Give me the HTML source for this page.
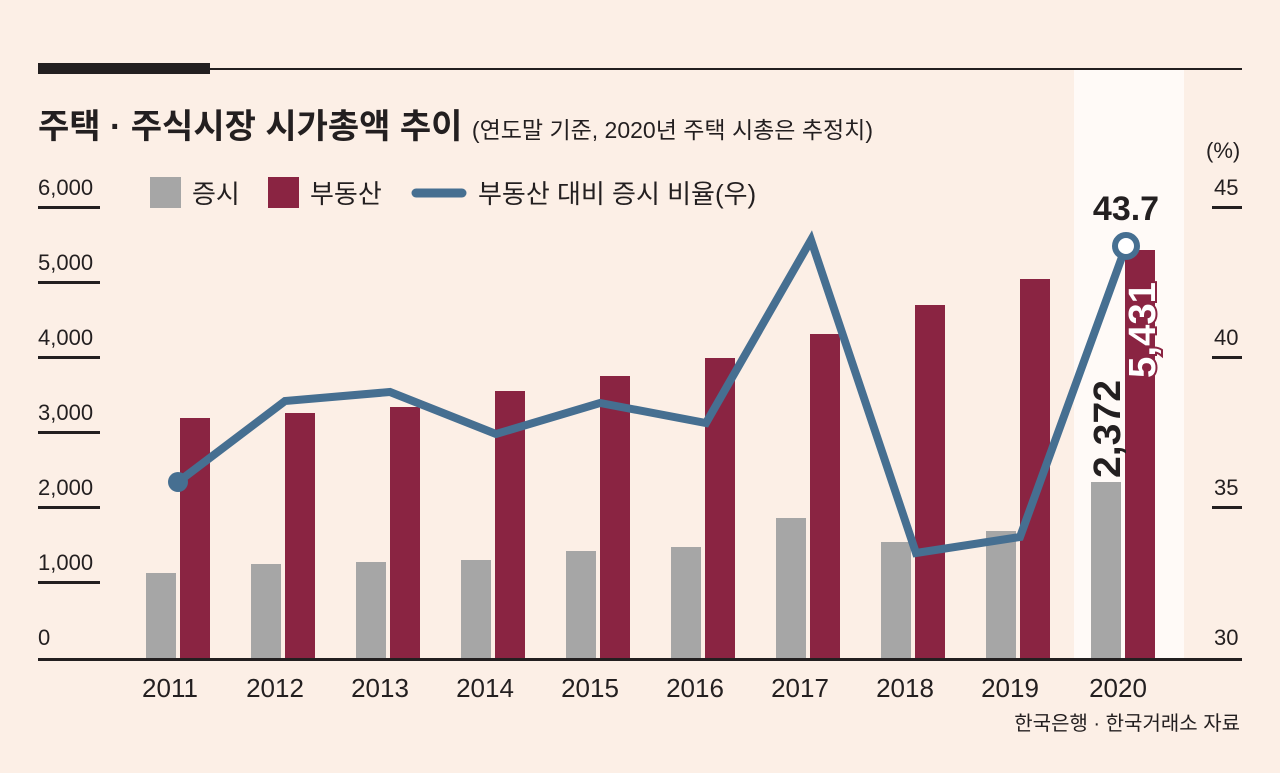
<!DOCTYPE html><html><head><meta charset="utf-8"><style>
body{margin:0;background:#fcefe6}
svg text{font-family:"Liberation Sans","Noto Sans CJK KR",sans-serif}
</style></head><body>
<svg width="1280" height="768" viewBox="0 0 1280 768" xmlns="http://www.w3.org/2000/svg">
<rect width="1280" height="768" fill="#fcefe6"/>
<rect x="1074" y="70" width="110" height="590" fill="#fffaf7"/>
<rect x="38" y="63" width="172" height="11" fill="#231f20"/>
<rect x="210" y="68" width="1032" height="2" fill="#231f20"/>
<text x="38" y="138" font-size="34" font-weight="bold" fill="#231f20">주택 · 주식시장 시가총액 추이 <tspan font-size="23" font-weight="normal">(연도말 기준, 2020년 주택 시총은 추정치)</tspan></text>
<g font-size="22" fill="#231f20">
<text x="38" y="195">6,000</text><text x="38" y="270">5,000</text><text x="38" y="345">4,000</text>
<text x="38" y="420">3,000</text><text x="38" y="495">2,000</text><text x="38" y="570">1,000</text><text x="38" y="645">0</text>
<text x="1206" y="158">(%)</text>
<text x="1214" y="195">45</text><text x="1214" y="345">40</text><text x="1214" y="495">35</text><text x="1214" y="645">30</text>
</g>
<g fill="#231f20">
<rect x="38" y="206" width="62" height="3"/><rect x="38" y="281" width="62" height="3"/><rect x="38" y="356" width="62" height="3"/>
<rect x="38" y="431" width="62" height="3"/><rect x="38" y="506" width="62" height="3"/><rect x="38" y="581" width="62" height="3"/>
<rect x="1212" y="206" width="30" height="3"/><rect x="1212" y="356" width="30" height="3"/><rect x="1212" y="506" width="30" height="3"/>
</g>
<rect x="150" y="177" width="31" height="31" fill="#a6a6a6"/>
<text x="192" y="203" font-size="26" fill="#231f20">증시</text>
<rect x="268" y="177" width="31" height="31" fill="#8a2442"/>
<text x="310" y="203" font-size="26" fill="#231f20">부동산</text>
<line x1="416" y1="193" x2="462" y2="193" stroke="#466f91" stroke-width="9" stroke-linecap="round"/>
<text x="478" y="203" font-size="26" fill="#231f20">부동산 대비 증시 비율(우)</text>
<g fill="#a6a6a6">
<rect x="146" y="573" width="30" height="87"/><rect x="251" y="564" width="30" height="96"/><rect x="356" y="562" width="30" height="98"/>
<rect x="461" y="560" width="30" height="100"/><rect x="566" y="551" width="30" height="109"/><rect x="671" y="547" width="30" height="113"/>
<rect x="776" y="518" width="30" height="142"/><rect x="881" y="542" width="30" height="118"/><rect x="986" y="531" width="30" height="129"/>
<rect x="1091" y="482" width="30" height="178"/>
</g>
<g fill="#8a2442">
<rect x="180" y="418" width="30" height="242"/><rect x="285" y="413" width="30" height="247"/><rect x="390" y="407" width="30" height="253"/>
<rect x="495" y="391" width="30" height="269"/><rect x="600" y="376" width="30" height="284"/><rect x="705" y="358" width="30" height="302"/>
<rect x="810" y="334" width="30" height="326"/><rect x="915" y="305" width="30" height="355"/><rect x="1020" y="279" width="30" height="381"/>
<rect x="1125" y="250" width="30" height="410"/>
</g>
<rect x="38" y="658" width="1204" height="3" fill="#231f20"/>
<polyline points="178,482 285,401 390,392 496,434 600,403 706,423 811,240 916,553 1020,537 1126,246" fill="none" stroke="#466f91" stroke-width="8" stroke-linejoin="miter"/>
<circle cx="178" cy="482" r="10" fill="#466f91"/>
<circle cx="1126" cy="246" r="11" fill="#fff" stroke="#466f91" stroke-width="6"/>
<text x="1126" y="220" font-size="34" font-weight="bold" text-anchor="middle" fill="#231f20">43.7</text>
<text transform="translate(1120,478) rotate(-90)" font-size="38" font-weight="bold" fill="#231f20" textLength="98" lengthAdjust="spacingAndGlyphs">2,372</text>
<text transform="translate(1155,378) rotate(-90)" font-size="38" font-weight="bold" fill="#fff" stroke="#8a2442" stroke-width="4" paint-order="stroke" textLength="96" lengthAdjust="spacingAndGlyphs">5,431</text>
<g font-size="26" fill="#231f20" text-anchor="middle">
<text x="170" y="697">2011</text><text x="275" y="697">2012</text><text x="380" y="697">2013</text><text x="485" y="697">2014</text>
<text x="590" y="697">2015</text><text x="695" y="697">2016</text><text x="800" y="697">2017</text><text x="905" y="697">2018</text>
<text x="1010" y="697">2019</text><text x="1118" y="697">2020</text>
</g>
<text x="1240" y="730" font-size="20" text-anchor="end" fill="#231f20">한국은행 · 한국거래소 자료</text>
</svg>
</body></html>
